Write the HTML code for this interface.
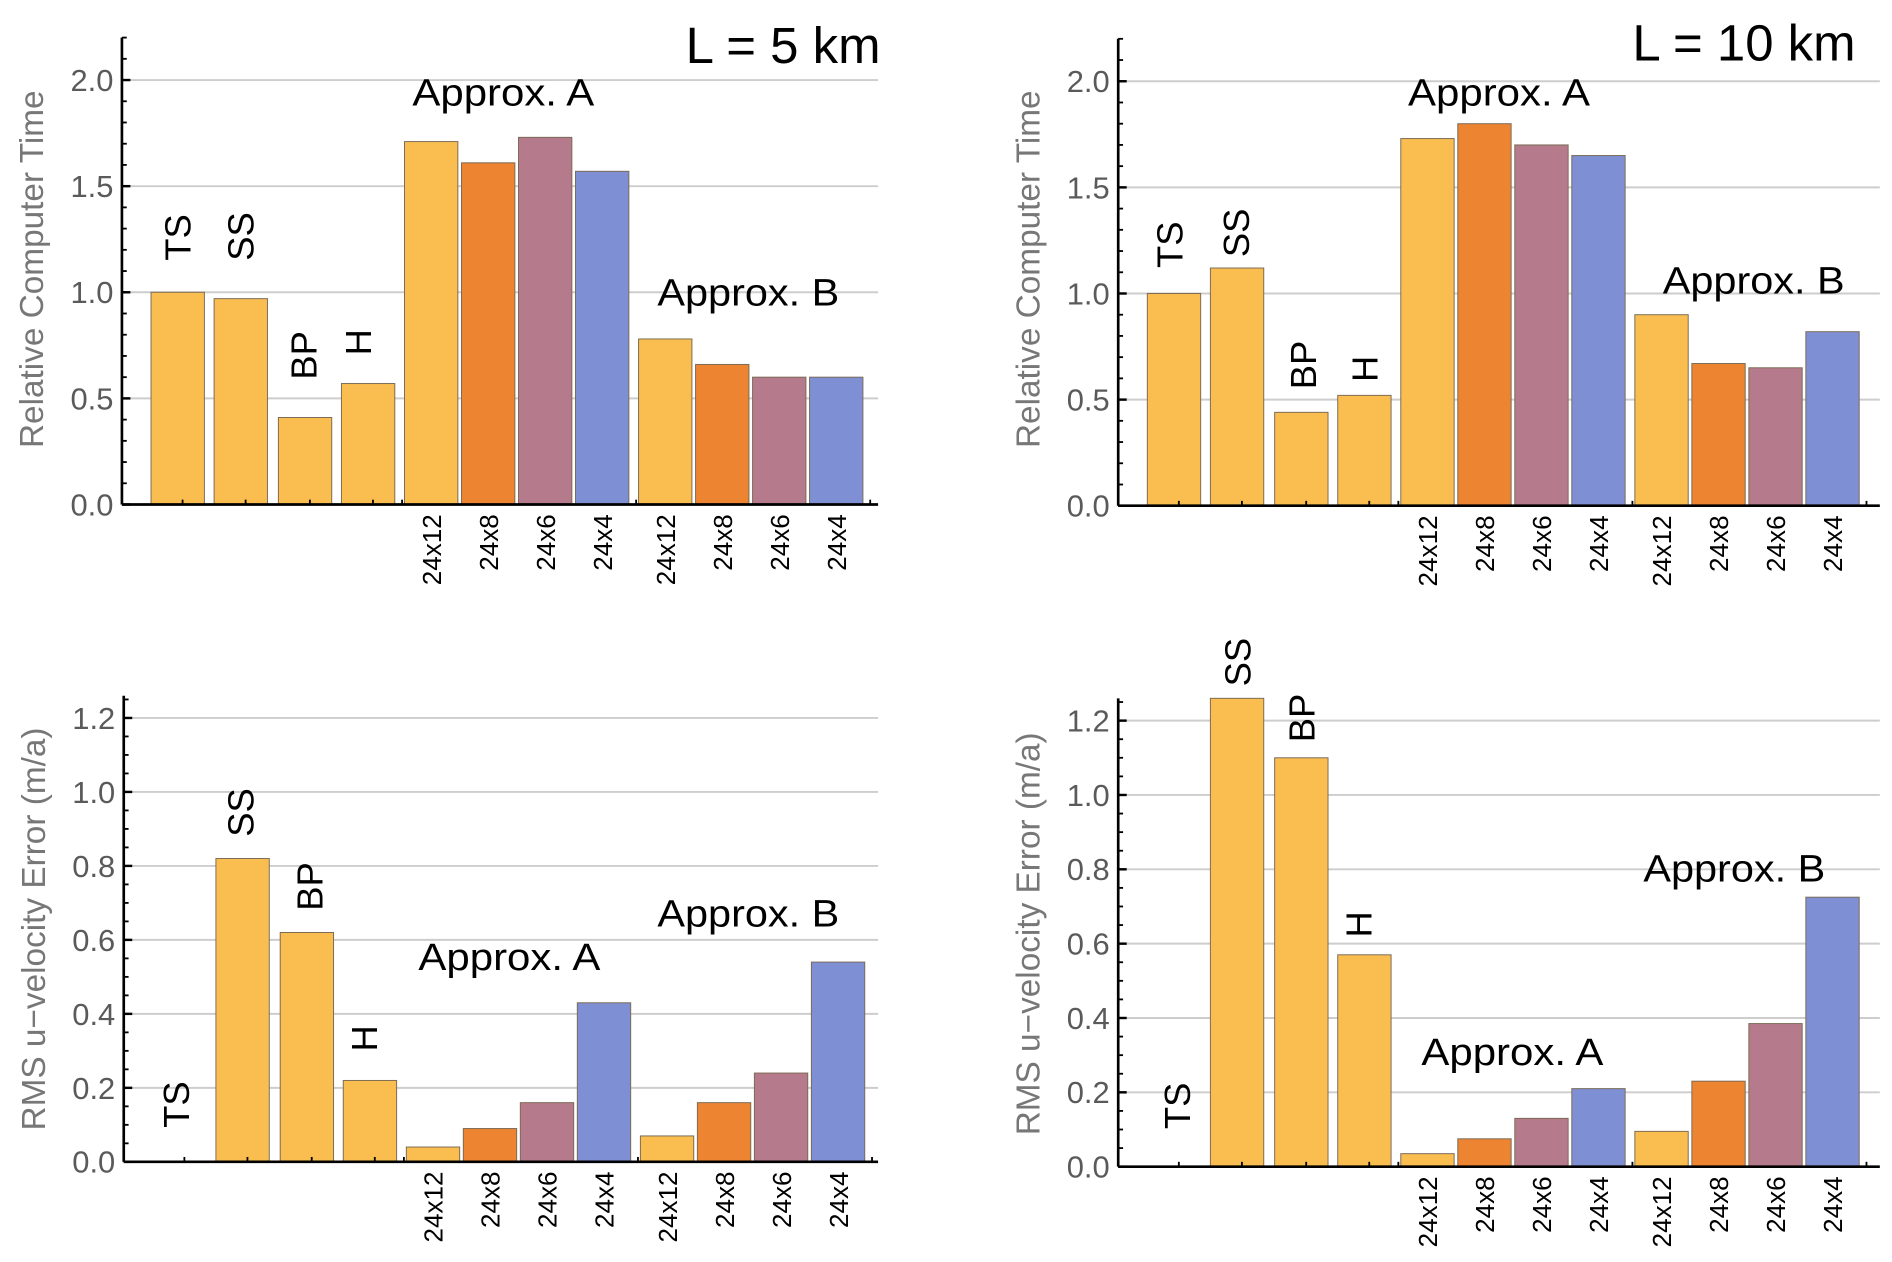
<!DOCTYPE html>
<html><head><meta charset="utf-8"><style>
html,body{margin:0;padding:0;background:#fff}
svg{display:block}
text{font-family:"Liberation Sans",sans-serif}
</style></head><body>
<svg id="chart" width="1892" height="1262" viewBox="0 0 1560 1040.6" xmlns="http://www.w3.org/2000/svg"></svg>
<script>
const categories = ["TS","SS","BP","H","A 24x12","A 24x8","A 24x6","A 24x4","B 24x12","B 24x8","B 24x6","B 24x4"];
const gridLabels = ["24x12","24x8","24x6","24x4","24x12","24x8","24x6","24x4"];
const timeL5 = [1.0,0.97,0.41,0.57,1.71,1.61,1.73,1.57,0.78,0.66,0.60,0.60];
const timeL10 = [1.0,1.12,0.44,0.52,1.73,1.80,1.70,1.65,0.90,0.67,0.65,0.82];
const errL5 = [0,0.82,0.62,0.22,0.04,0.09,0.16,0.43,0.07,0.16,0.24,0.54];
const errL10 = [0,1.27,1.10,0.57,0.035,0.075,0.13,0.21,0.095,0.23,0.385,0.725];
const timeTicks = ["0.0","0.5","1.0","1.5","2.0"];
const errTicks = ["0.0","0.2","0.4","0.6","0.8","1.0","1.2"];

const NS="http://www.w3.org/2000/svg";
const svg=document.getElementById('chart');
const colors=["#f9bd50","#f9bd50","#f9bd50","#f9bd50","#f9bd50","#ec8431","#b57a8b","#7f8fd4","#f9bd50","#ec8431","#b57a8b","#7f8fd4"];
const offsets=[24,76,129,181,233,280,327,374,426,473,520,567];
function mk(tag,attrs,parent){const e=document.createElementNS(NS,tag);for(const k in attrs)e.setAttribute(k,attrs[k]);(parent||svg).appendChild(e);return e;}
function txt(s,attrs,parent){const e=mk('text',attrs,parent);e.textContent=s;return e;}

function panel(cfg){
  const g=mk('g',{});
  
  
  const y=v=>cfg.base-(v/cfg.step)*cfg.stepPx;
  const minor=cfg.step/ (cfg.minorN);
  cfg.ticks.forEach(t=>{
    const v=parseFloat(t),yy=y(v);
    if(v>0){const l=mk('line',{x1:cfg.ax,x2:cfg.right,y1:yy,y2:yy,stroke:'#cdcdcd','stroke-width':1.6},g);
      }
    const tl=txt(t,{x:cfg.ax-7,y:yy+9,'text-anchor':'end','font-size':25.5,fill:'#5a5a5a'},g);
    
    mk('line',{x1:cfg.ax,x2:cfg.ax+7,y1:yy,y2:yy,stroke:'#000','stroke-width':2},g);
  });
  for(let v=0;v<=cfg.top+1e-9;v+=minor){mk('line',{x1:cfg.ax,x2:cfg.ax+4,y1:y(v),y2:y(v),stroke:'#000','stroke-width':1.5},g);}
  cfg.vals.forEach((v,i)=>{
    if(v<=0)return;
    const vv=Math.min(v,cfg.top);
    const r=mk('rect',{x:cfg.ax+offsets[i],y:y(vv),width:44,height:cfg.base-y(vv),fill:colors[i],stroke:'#7a6a55','stroke-width':0.8},g);
    
    
  });
  const ya=mk('line',{x1:cfg.ax,x2:cfg.ax,y1:y(cfg.top),y2:cfg.base,stroke:'#000','stroke-width':2.2},g);
  
  const xa=mk('line',{x1:cfg.ax,x2:cfg.right,y1:cfg.base,y2:cfg.base,stroke:'#000','stroke-width':2.2},g);
  
  [50,102,155,207,231,424,617].forEach(o=>mk('line',{x1:cfg.ax+o,x2:cfg.ax+o,y1:cfg.base,y2:cfg.base-4,stroke:'#000','stroke-width':1.5},g));
  gridLabels.forEach((s,j)=>{
    const cx=cfg.ax+offsets[j+4]+22;
    const t=txt(s,{x:0,y:0,'font-size':21.5,'text-anchor':'end',transform:`translate(${cx+8},${cfg.base+8}) rotate(-90)`,fill:'#000'},g);
    
  });
  const yt=txt(cfg.ytitle,{x:0,y:0,'font-size':27.5,'text-anchor':'middle',fill:'#777',transform:`translate(${cfg.ax-65},${cfg.ymid}) rotate(-90)`},g);
  
  cfg.mlabels.forEach(m=>{
    const t=txt(m[0],{x:0,y:0,'font-size':30,fill:'#000',transform:`translate(${m[1]+11},${m[2]}) rotate(-90)`},g);
    
  });
  cfg.glabels.forEach(m=>{
    const t=txt(m[0],{x:m[1],y:m[2],'font-size':31,'text-anchor':'middle',fill:'#000',textLength:150,lengthAdjust:'spacingAndGlyphs'},g);
    
  });
  if(cfg.title){const t=txt(cfg.title[0],{x:cfg.title[1],y:cfg.title[2],'font-size':42,'text-anchor':'end',fill:'#000'},g);
    }
}

panel({name:'panel-time-l5',ax:100.5,right:724,base:416,step:0.5,stepPx:87.5,minorN:5,top:2.2,ticks:timeTicks,vals:timeL5,
  ytitle:'Relative Computer Time',ymid:222,
  mlabels:[['TS',146,215],['SS',198,215],['BP',250,313],['H',295,293]],
  glabels:[['Approx. A',415,87],['Approx. B',617,252]],title:['L = 5 km',726,52]});
panel({name:'panel-time-l10',ax:922,right:1550,base:417,step:0.5,stepPx:87.5,minorN:5,top:2.2,ticks:timeTicks,vals:timeL10,
  ytitle:'Relative Computer Time',ymid:222,
  mlabels:[['TS',964,221],['SS',1019,212],['BP',1074,321],['H',1125,315]],
  glabels:[['Approx. A',1236,87],['Approx. B',1446,242]],title:['L = 10 km',1530,50]});
panel({name:'panel-error-l5',ax:102,right:724,base:958,step:0.2,stepPx:61,minorN:4,top:1.26,ticks:errTicks,vals:errL5,
  ytitle:'RMS u\u2212velocity Error (m/a)',ymid:766,
  mlabels:[['TS',145,930],['SS',198,690],['BP',255,751],['H',300,867]],
  glabels:[['Approx. A',420,800],['Approx. B',617,764]]});
panel({name:'panel-error-l10',ax:922,right:1550,base:962,step:0.2,stepPx:61.3,minorN:4,top:1.26,ticks:errTicks,vals:errL10,
  ytitle:'RMS u\u2212velocity Error (m/a)',ymid:770,
  mlabels:[['TS',970,931],['SS',1020,566],['BP',1073,612],['H',1120,773]],
  glabels:[['Approx. A',1247,878],['Approx. B',1430,727]]});
</script>
</body></html>
